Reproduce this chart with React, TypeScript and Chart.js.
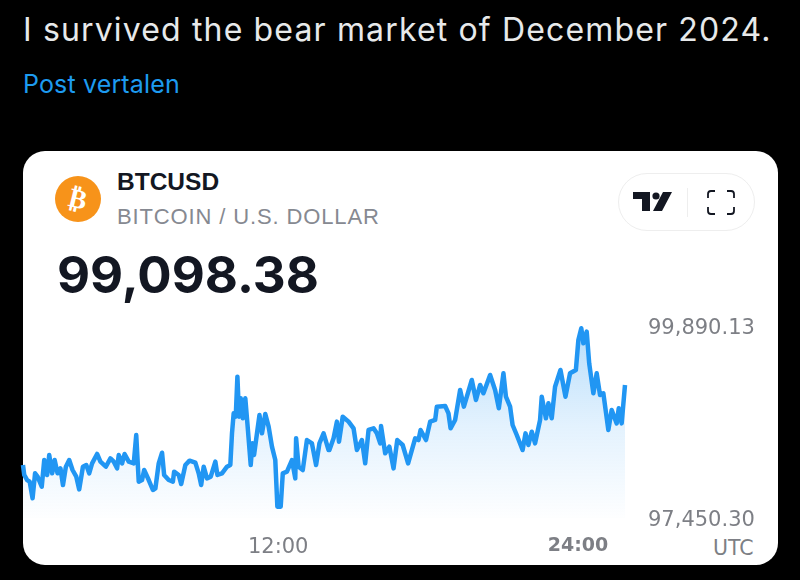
import React, { useEffect, useRef } from "react";
import { Chart, registerables } from "chart.js";

Chart.register(...registerables);

const minutes = [107,110,117,123,130,136,142,152,158,165,170,177,183,190,197,203,210,218,226,235,242,251,259,266,273,285,293,306,317,325,333,337,345,351,361,373,379,385,393,398,409,419,425,433,441,446,457,467,470,481,487,497,507,521,529,535,541,549,558,569,574,585,597,605,609,613,618,622,626,630,635,641,646,654,658,662,669,675,681,689,697,705,713,718,726,731,741,753,761,763,769,779,789,801,811,819,829,841,843,853,861,866,875,889,901,909,921,929,937,949,957,965,967,977,987,997,1006,1019,1032,1049,1057,1062,1075,1085,1097,1101,1121,1129,1134,1145,1157,1166,1185,1195,1205,1213,1229,1241,1250,1261,1267,1277,1283,1293,1307,1314,1321,1329,1337,1349,1353,1363,1369,1377,1385,1398,1410,1421,1435,1441,1448,1453,1461,1467,1477,1485,1493,1501,1513,1521,1533,1538,1545,1553];
const prices = [98124,97997,97933,97912,97700,98018,97975,97848,98187,97997,98251,98018,98187,98018,98081,97869,98102,98187,98060,97975,97814,98102,98124,98018,98145,98264,98166,98102,98208,98166,98081,98251,98145,98264,98166,98145,98505,97912,97933,98060,97933,97806,97827,98145,98280,97997,97933,97912,98039,97997,97882,98124,98179,98153,98018,97869,98102,97954,97975,98166,97997,98018,98102,98124,98526,98780,98738,99246,98738,98971,98717,98971,98653,98124,98399,98251,98526,98759,98526,98772,98611,98357,98187,97594,97594,98018,98039,98187,97954,98463,98102,98060,98441,98399,98124,98399,98526,98314,98314,98463,98675,98420,98738,98675,98590,98314,98441,98145,98569,98590,98526,98399,98619,98272,98357,98081,98441,98378,98145,98463,98441,98569,98441,98675,98696,98865,98874,98780,98590,98696,99077,98865,99204,98950,99141,99035,99268,99077,98844,99289,98992,98865,98632,98505,98314,98526,98378,98547,98399,98696,98992,98717,98908,98717,99119,99331,98992,99289,99331,99713,99861,99670,99819,99416,99035,99289,99013,99035,98569,98823,98653,98844,98653,99141];
const priceTicks = [97450.3, 99890.13];
const timeTicks = [720, 1440];
const currentPrice = "99,098.38";
const symbol = "BTCUSD";
const symbolName = "BITCOIN / U.S. DOLLAR";
const heading = "I survived the bear market of December 2024.";
const translate = "Post vertalen";

const abs = (s: React.CSSProperties): React.CSSProperties => ({ position: "absolute", whiteSpace: "nowrap", ...s });

export default function App() {
  const ref = useRef<HTMLCanvasElement>(null);
  useEffect(() => {
    const chart = new Chart(ref.current!, {
      type: "line",
      data: {
        datasets: [
          {
            data: minutes.map((m, i) => ({ x: m, y: prices[i] })),
            borderColor: "#2196f3",
            borderWidth: 4.5,
            borderJoinStyle: "round",
            pointRadius: 0,
            tension: 0,
            clip: false,
            fill: "start",
            backgroundColor: (c: any) => {
              const area = c.chart.chartArea;
              if (!area) return "rgba(33,150,243,0.1)";
              const g = c.chart.ctx.createLinearGradient(0, area.top, 0, area.bottom + 4);
              g.addColorStop(0, "rgba(33,150,243,0.32)");
              g.addColorStop(0.5, "rgba(33,150,243,0.13)");
              g.addColorStop(1, "rgba(33,150,243,0)");
              return g;
            },
          },
        ],
      },
      options: {
        responsive: false,
        animation: false,
        layout: { padding: { top: 326, left: 23, right: 0, bottom: 0 } },
        plugins: { legend: { display: false }, tooltip: { enabled: false } },
        scales: {
          x: {
            type: "linear",
            min: 107,
            max: 1553,
            grid: { display: false },
            border: { display: false },
            afterBuildTicks: (s: any) => {
              s.ticks = timeTicks.map((value) => ({ value }));
            },
            afterFit: (s: any) => {
              s.height = 62;
            },
            ticks: {
              autoSkip: false,
              maxRotation: 0,
              padding: 9,
              callback: (v: any) => `${Math.round(Number(v) / 60)}:00`,
              color: "#7d7f85",
              font: (c: any) => {
                const bold = c.tick && c.tick.value === 1440;
                return { family: "DejaVu Sans", size: bold ? 19 : 21, weight: bold ? "bold" : "normal" };
              },
            },
          },
          y: {
            position: "right",
            min: priceTicks[0],
            max: priceTicks[1],
            grid: { display: false },
            border: { display: false },
            afterBuildTicks: (s: any) => {
              s.ticks = priceTicks.map((value) => ({ value }));
            },
            afterFit: (s: any) => {
              s.width = 175;
            },
            ticks: {
              autoSkip: false,
              padding: 15,
              labelOffset: 3,
              color: "#7d7f85",
              callback: (v: any) =>
                Number(v).toLocaleString("en-US", { minimumFractionDigits: 2, maximumFractionDigits: 2 }),
              font: { family: "DejaVu Sans", size: 21 },
            },
          },
        },
      },
    } as any);
    return () => chart.destroy();
  }, []);

  return (
    <div style={{ position: "fixed", left: 0, top: 0, width: 800, height: 580, background: "#000", overflow: "hidden", fontFamily: "Inter" }}>
      <div style={abs({ left: 23, top: 10, fontSize: 32, lineHeight: "40px", color: "#e7e9ea", letterSpacing: 1.15 })}>{heading}</div>
      <div style={abs({ left: 23, top: 68, fontSize: 25, lineHeight: "32px", color: "#1d9bf0", letterSpacing: 0.15 })}>{translate}</div>
      <div style={{ position: "absolute", left: 23, top: 151, width: 755, height: 414, background: "#fff", borderRadius: 22 }} />
      <div style={{ position: "absolute", left: 55, top: 176, width: 46, height: 46, borderRadius: "50%", background: "#f7931a", color: "#fff", fontFamily: "DejaVu Sans", fontWeight: "bold", fontSize: 27, lineHeight: "46px", textAlign: "center" }}>
        <span style={{ display: "inline-block", transform: "rotate(14deg)" }}>₿</span>
      </div>
      <div style={abs({ left: 117, top: 168, fontFamily: "Liberation Sans", fontWeight: "bold", fontSize: 24.5, lineHeight: "28px", color: "#131722" })}>{symbol}</div>
      <div style={abs({ left: 117, top: 204, fontFamily: "Liberation Sans", fontSize: 22, lineHeight: "26px", color: "#868991", letterSpacing: 0.87 })}>{symbolName}</div>
      <div style={abs({ left: 57, top: 245, fontFamily: "Inter", fontWeight: "bold", fontSize: 51, lineHeight: "60px", color: "#131722" })}>{currentPrice}</div>
      <div style={{ position: "absolute", left: 618, top: 173, width: 135, height: 56, borderRadius: 29, border: "1px solid #eeeeee" }} />
      <div style={{ position: "absolute", left: 687, top: 188, width: 1, height: 29, background: "#eeeeee" }} />
      <svg style={{ position: "absolute", left: 600, top: 160 }} width={150} height={70} viewBox="0 0 150 70">
        <path d="M33 32H50V51H42V39H33Z M63 32H72L62 51H53Z" fill="#131722" />
        <circle cx="56" cy="36" r="3.6" fill="#131722" />
        <path d="M108 38V34Q108 31 111 31H115 M127 31H131Q134 31 134 34V38 M108 47V51Q108 54 111 54H115 M127 54H131Q134 54 134 51V47" fill="none" stroke="#131722" strokeWidth={1.8} />
      </svg>
      <div style={abs({ left: 713, top: 536, fontFamily: "DejaVu Sans", fontSize: 20.5, lineHeight: "24px", color: "#7d7f85" })}>UTC</div>
      <canvas ref={ref} width={800} height={580} style={{ position: "absolute", left: 0, top: 0, display: "block" }} />
    </div>
  );
}
